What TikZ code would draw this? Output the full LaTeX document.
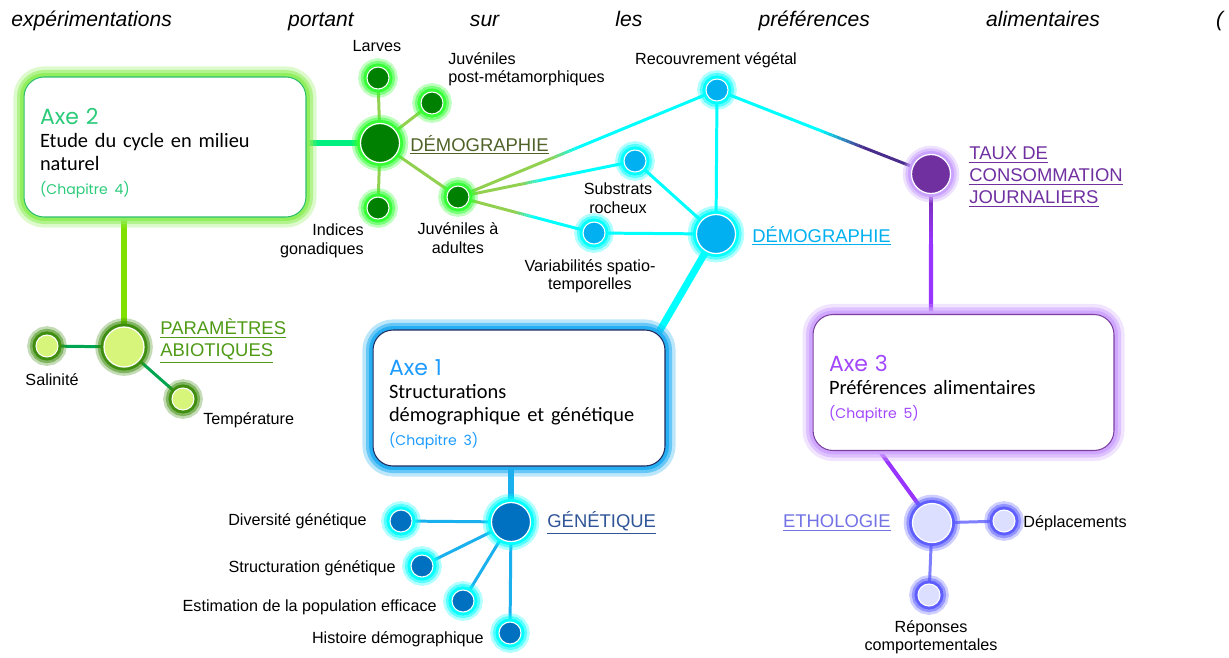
\documentclass[tikz,border=0pt]{standalone}
\usepackage{fontspec}
\setmainfont{Liberation Sans}
\newfontfamily\bodyfont{Carlito}
\newfontfamily\axefont{Poppins}
\usetikzlibrary{positioning,calc,backgrounds}

% couleurs
\definecolor{axeIItxt}{HTML}{2BCB7A}
\definecolor{axeIIline}{HTML}{2EBF6E}
\definecolor{axeIIglow}{HTML}{8FEE5A}
\definecolor{axeItxt}{HTML}{1E9BFF}
\definecolor{axeIline}{HTML}{1F2A60}
\definecolor{axeIglow}{HTML}{22AEF2}
\definecolor{axeIIItxt}{HTML}{A347FF}
\definecolor{axeIIIline}{HTML}{7B3FA0}
\definecolor{axeIIIglow}{HTML}{CFA6FF}
\definecolor{vertfonce}{HTML}{008000}
\definecolor{vertglow}{HTML}{33FF33}
\definecolor{bleuciel}{HTML}{00B0F0}
\definecolor{cyanglow}{HTML}{00FFFF}
\definecolor{violet}{HTML}{7030A0}
\definecolor{violetglow}{HTML}{C9A0FF}
\definecolor{jaunevert}{HTML}{D6F57A}
\definecolor{kakiglow}{HTML}{3C8C0A}
\definecolor{bleufonce}{HTML}{0070C0}
\definecolor{lavande}{HTML}{DCDFFF}
\definecolor{lavandeglow}{HTML}{5C5CFF}
\definecolor{demgtxt}{HTML}{4F6228}
\definecolor{paramtxt}{HTML}{4F9A16}
\definecolor{gentxt}{HTML}{2F5597}
\definecolor{ethtxt}{HTML}{7373E6}
\definecolor{lienprintemps}{HTML}{00F07F}
\definecolor{lienchartreuse}{HTML}{80E000}
\definecolor{lienvert}{HTML}{92D050}
\definecolor{liencyan}{HTML}{00FFFF}
\definecolor{lienbleu}{HTML}{1AB0EE}
\definecolor{lienparam}{HTML}{00A550}
\definecolor{lienviolet}{HTML}{9933FF}
\definecolor{lienindigo}{HTML}{4A2C8C}
\definecolor{lienlavande}{HTML}{8080FF}

\tikzset{
  hub/.style={circle, draw=white, line width=0.7pt, minimum size=0.78cm, inner sep=0pt},
  leaf/.style={circle, draw=white, line width=0.6pt, minimum size=0.44cm, inner sep=0pt},
  glow/.style={preaction={draw=#1, line width=10pt, draw opacity=0.3},
               preaction={draw=#1, line width=7pt, draw opacity=0.5},
               preaction={draw=#1, line width=4pt, draw opacity=0.95}},
  glowbox/.style={preaction={draw=#1, line width=12pt, draw opacity=0.3},
                  preaction={draw=#1, line width=8pt, draw opacity=0.55},
                  preaction={draw=#1, line width=4.5pt, draw opacity=0.95}},
  axebox/.style={draw=#1, line width=0.6pt, rounded corners=0.4cm, fill=white,
                 align=left, inner xsep=0.32cm,
                 font=\bodyfont\fontsize{11.6}{13.3}\selectfont},
  lbl/.style={font=\fontsize{9.2}{10.5}\selectfont, inner sep=0pt, align=center},
  hublbl/.style={font=\fontsize{10.5}{12.5}\selectfont, inner sep=0pt, align=left},
}

% titre d'un axe et chapitre
\newcommand{\axetitle}[2]{\rule{0pt}{16pt}{\axefont\fontsize{12.5}{14}\selectfont\color{#1}#2}}
\newcommand{\chapnote}[2]{{\axefont\fontsize{8}{9}\selectfont\color{#1}#2}}

% lien en degrade : depart, arrivee, couleur 1, couleur 2, debut, fin
\newcommand{\fadelink}[6]{%
  \draw[#3] (#1) -- ($(#1)!#5!(#2)$);
  \foreach \k in {1,...,10}{%
    \pgfmathsetmacro{\ta}{#5+(#6-#5)*(\k-1)/10}%
    \pgfmathsetmacro{\tb}{#5+(#6-#5)*\k/10}%
    \pgfmathtruncatemacro{\mx}{105-10*\k}%
    \draw[#3!\mx!#4] ($(#1)!\ta!(#2)$) -- ($(#1)!\tb!(#2)$);
  }%
  \draw[#4] ($(#1)!#6!(#2)$) -- (#2);
}

\begin{document}
\begin{tikzpicture}[x=0.02cm, y=-0.02cm]
  \useasboundingbox (0,0) rectangle (1229,657);

  \node[anchor=base west, inner sep=0pt, text width=24.24cm,
        font=\itshape\fontsize{12}{14}\selectfont] (intro) at (11,26)
    {\noindent expérimentations\hfill portant\hfill sur\hfill les\hfill préférences\hfill alimentaires\hfill (};

  % les trois axes
  \node[axebox=axeIIline, glowbox=axeIIglow, minimum width=5.64cm, minimum height=2.8cm, text width=5.0cm] (ax2) at (165,147)
    {\axetitle{axeIItxt}{Axe 2}\\Etude du cycle en milieu\\naturel\\\chapnote{axeIItxt}{(Chapitre 4)}};
  \node[axebox=axeIline, glowbox=axeIglow, minimum width=5.84cm, minimum height=2.72cm, text width=5.2cm] (ax1) at (519,398)
    {\axetitle{axeItxt}{Axe 1}\\Structurations\\démographique et génétique\\\chapnote{axeItxt}{(Chapitre 3)}};
  \node[axebox=axeIIIline, glowbox=axeIIIglow, minimum width=6.02cm, minimum height=2.72cm, text width=5.38cm] (ax3) at (963.5,382.5)
    {\axetitle{axeIIItxt}{Axe 3}\\Préférences alimentaires\\\chapnote{axeIIItxt}{(Chapitre 5)}};

  % demographie (axe 2)
  \node[hub, fill=vertfonce, glow=vertglow] (demg) at (380,143) {};
  \node[leaf, fill=vertfonce, glow=vertglow] (larv) at (378,78) {};
  \node[leaf, fill=vertfonce, glow=vertglow] (jpm) at (432,103) {};
  \node[leaf, fill=vertfonce, glow=vertglow] (igon) at (378,208) {};
  \node[leaf, fill=vertfonce, glow=vertglow] (jad) at (458,197) {};

  % demographie (axe 1)
  \node[hub, fill=bleuciel, glow=cyanglow] (bdemg) at (716,234) {};
  \node[leaf, fill=bleuciel, glow=cyanglow] (recv) at (717,90) {};
  \node[leaf, fill=bleuciel, glow=cyanglow] (subr) at (635,161) {};
  \node[leaf, fill=bleuciel, glow=cyanglow] (vari) at (594,233) {};

  \node[hub, fill=violet, glow=violetglow] (taux) at (931,174) {};

  % parametres abiotiques
  \node[hub, minimum size=0.8cm, fill=jaunevert, glow=kakiglow] (param) at (124,347) {};
  \node[leaf, fill=jaunevert, glow=kakiglow] (sali) at (47,346) {};
  \node[leaf, fill=jaunevert, glow=kakiglow] (temp) at (183,399) {};

  % genetique
  \node[hub, fill=bleufonce, glow=cyanglow] (gen) at (511,522) {};
  \node[leaf, fill=bleufonce, glow=cyanglow] (divg) at (401,521) {};
  \node[leaf, fill=bleufonce, glow=cyanglow] (strg) at (422,566) {};
  \node[leaf, fill=bleufonce, glow=cyanglow] (estm) at (463,601) {};
  \node[leaf, fill=bleufonce, glow=cyanglow] (hist) at (510,633) {};

  % ethologie
  \node[hub, fill=lavande, glow=lavandeglow] (eth) at (932,523) {};
  \node[leaf, fill=lavande, glow=lavandeglow] (depl) at (1004,521) {};
  \node[leaf, fill=lavande, glow=lavandeglow] (repc) at (929,595) {};

  % etiquettes
  \node[hublbl, anchor=west, text=demgtxt] (demglbl) at (410,145) {\underline{DÉMOGRAPHIE}};
  \node[hublbl, anchor=west, text=bleuciel] (bdemglbl) at (752,236) {\underline{DÉMOGRAPHIE}};
  \node[hublbl, anchor=west, text=violet] (tauxlbl) at (969,177) {\underline{TAUX DE}\\\underline{CONSOMMATION}\\\underline{JOURNALIERS}};
  \node[hublbl, anchor=west, text=paramtxt] (paramlbl) at (160,341) {\underline{PARAMÈTRES}\\\underline{ABIOTIQUES}};
  \node[hublbl, anchor=west, text=gentxt] (genlbl) at (547,523) {\underline{GÉNÉTIQUE}};
  \node[hublbl, anchor=east, text=ethtxt] (ethlbl) at (891,523) {\underline{ETHOLOGIE}};

  \node[lbl] (larvlbl) at (377,46) {Larves};
  \node[lbl, anchor=west, align=left] (jpmlbl) at (448,69) {Juvéniles\\post-métamorphiques};
  \node[lbl, anchor=east, align=right] (igonlbl) at (364,241) {Indices\\gonadiques};
  \node[lbl] (jadlbl) at (458,238) {Juvéniles à\\adultes};
  \node[lbl] (recvlbl) at (716,60) {Recouvrement végétal};
  \node[lbl] (subrlbl) at (618,198) {Substrats\\rocheux};
  \node[lbl] (varilbl) at (590,276) {Variabilités spatio-\\temporelles};
  \node[lbl] (salilbl) at (52,380) {Salinité};
  \node[lbl, anchor=west] (templbl) at (203,420) {Température};
  \node[lbl, anchor=east] (divglbl) at (367,521) {Diversité génétique};
  \node[lbl, anchor=east] (strglbl) at (396,568) {Structuration génétique};
  \node[lbl, anchor=east] (estmlbl) at (437,607) {Estimation de la population efficace};
  \node[lbl, anchor=east] (histlbl) at (484,639) {Histoire démographique};
  \node[lbl, anchor=west] (depllbl) at (1023,523) {Déplacements};
  \node[lbl] (repclbl) at (931,637) {Réponses\\comportementales};

  \coordinate (ax1top) at ([xshift=-0.22cm, yshift=-0.2cm]ax1.north east);
  \coordinate (ax3top) at (taux |- ax3.north);
  \coordinate (ax3foot) at ([xshift=-1.75cm, yshift=0.1cm]ax3.south);

  % liens
  \begin{scope}[on background layer]
  \begin{scope}[line width=1.7pt]
    \draw[lienprintemps, line width=3pt] (ax2.east |- demg) -- (demg);
    \draw[lienchartreuse, line width=3pt] (ax2.south -| param) -- (param);
    \draw[lienvert] (demg) -- (larv);
    \draw[lienvert] (demg) -- (jpm);
    \draw[lienvert] (demg) -- (igon);
    \draw[lienvert] (demg) -- (jad);
    \fadelink{jad}{recv}{lienvert}{liencyan}{0.36}{0.46}
    \fadelink{jad}{subr}{lienvert}{liencyan}{0.36}{0.48}
    \fadelink{jad}{vari}{lienvert}{liencyan}{0.42}{0.56}
    \draw[liencyan] (recv) -- (bdemg);
    \draw[liencyan] (subr) -- (bdemg);
    \draw[liencyan] (vari) -- (bdemg);
    \fadelink{recv}{taux}{liencyan}{lienindigo}{0.48}{0.68}
    \draw[liencyan, line width=4pt] (bdemg) -- (ax1top);
    \draw[lienparam] (param) -- (sali);
    \draw[lienparam] (param) -- (temp);
    \draw[lienbleu, line width=3pt] (ax1.south -| gen) -- (gen);
    \draw[lienbleu] (gen) -- (divg);
    \draw[lienbleu] (gen) -- (strg);
    \draw[lienbleu] (gen) -- (estm);
    \draw[lienbleu] (gen) -- (hist);
    \draw[lienlavande] (eth) -- (depl);
    \draw[lienlavande] (eth) -- (repc);
  \end{scope}
  \begin{scope}[line width=2.3pt]
    \fadelink{taux}{ax3top}{violet}{lienviolet}{0.05}{0.5}
    \fadelink{ax3foot}{eth}{lienviolet}{lienlavande}{0.7}{0.9}
  \end{scope}
  \end{scope}

\end{tikzpicture}
\end{document}
